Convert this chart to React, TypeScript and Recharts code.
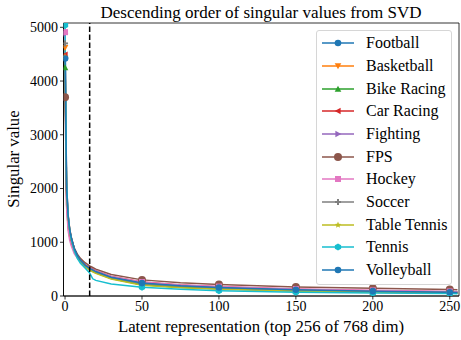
import { LineChart, Line, XAxis, YAxis, ReferenceLine, ReferenceArea, Legend } from 'recharts';

// sample positions along the latent dimension
const X_VALUES = [0, 1, 2, 3, 4, 6, 8, 10, 13, 16, 18, 20, 30, 50, 75, 100, 150, 200, 250, 255];
const MARK_AT = [0, 50, 100, 150, 200, 250];

const FOOTBALL = [4430, 1950, 1480, 1240, 1090, 880, 750, 660, 570, 510, 480, 450, 345, 235, 185, 155, 112, 88, 68, 63];
const BASKETBALL = [4620, 2050, 1520, 1260, 1100, 880, 745, 650, 560, 500, 470, 440, 335, 225, 178, 148, 106, 83, 64, 59];
const BIKE_RACING = [4250, 1900, 1430, 1200, 1060, 860, 730, 640, 550, 490, 460, 430, 325, 210, 165, 135, 97, 76, 58, 54];
const CAR_RACING = [4490, 1700, 1280, 1100, 990, 830, 730, 660, 585, 530, 500, 470, 365, 260, 205, 172, 125, 100, 80, 74];
const FIGHTING = [4880, 2100, 1500, 1240, 1080, 870, 750, 660, 575, 515, 485, 455, 350, 245, 193, 162, 117, 93, 72, 67];
const FPS = [3700, 1850, 1420, 1210, 1080, 890, 780, 700, 620, 560, 530, 500, 400, 300, 245, 212, 168, 142, 122, 118];
const HOCKEY = [4910, 1650, 1220, 1040, 940, 790, 705, 640, 570, 520, 490, 465, 365, 260, 205, 175, 130, 105, 85, 80];
const SOCCER = [4700, 2000, 1480, 1230, 1080, 870, 745, 655, 565, 505, 475, 445, 340, 230, 180, 150, 108, 85, 66, 61];
const TABLE_TENNIS = [4450, 1950, 1450, 1210, 1060, 850, 720, 630, 540, 480, 450, 420, 315, 200, 155, 125, 90, 70, 54, 50];
const TENNIS = [5040, 2100, 1500, 1230, 1060, 840, 700, 610, 520, 430, 320, 290, 225, 165, 125, 100, 72, 58, 46, 43];
const VOLLEYBALL = [4420, 1980, 1490, 1250, 1100, 885, 755, 665, 575, 515, 485, 455, 350, 240, 190, 158, 115, 90, 70, 65];

const X_TICKS = [0, 50, 100, 150, 200, 250];
const Y_TICKS = [0, 1000, 2000, 3000, 4000, 5000];
const CUTOFF = 16;

const SERIES = [
  { key: 'Football', values: FOOTBALL, color: '#1f77b4', marker: 'o' },
  { key: 'Basketball', values: BASKETBALL, color: '#ff7f0e', marker: 'v' },
  { key: 'Bike Racing', values: BIKE_RACING, color: '#2ca02c', marker: '^' },
  { key: 'Car Racing', values: CAR_RACING, color: '#d62728', marker: '<' },
  { key: 'Fighting', values: FIGHTING, color: '#9467bd', marker: '>' },
  { key: 'FPS', values: FPS, color: '#8c564b', marker: 'O' },
  { key: 'Hockey', values: HOCKEY, color: '#e377c2', marker: 's' },
  { key: 'Soccer', values: SOCCER, color: '#7f7f7f', marker: 'P' },
  { key: 'Table Tennis', values: TABLE_TENNIS, color: '#bcbd22', marker: '*' },
  { key: 'Tennis', values: TENNIS, color: '#17becf', marker: 'h' },
  { key: 'Volleyball', values: VOLLEYBALL, color: '#1f77b4', marker: 'o' },
];

const rows = X_VALUES.map((x, i) => {
  const row: Record<string, number> = { x };
  SERIES.forEach((s) => { row[s.key] = s.values[i]; });
  return row;
});

const FONT = '"Liberation Serif", "Times New Roman", serif';

function Marker({ type, cx, cy, color }: { type: string; cx: number; cy: number; color: string }) {
  const r = 3.3;
  switch (type) {
    case 'v':
      return <polygon points={`${cx - r},${cy - r * 0.8} ${cx + r},${cy - r * 0.8} ${cx},${cy + r}`} fill={color} />;
    case '^':
      return <polygon points={`${cx - r},${cy + r * 0.8} ${cx + r},${cy + r * 0.8} ${cx},${cy - r}`} fill={color} />;
    case '<':
      return <polygon points={`${cx + r * 0.8},${cy - r} ${cx + r * 0.8},${cy + r} ${cx - r},${cy}`} fill={color} />;
    case '>':
      return <polygon points={`${cx - r * 0.8},${cy - r} ${cx - r * 0.8},${cy + r} ${cx + r},${cy}`} fill={color} />;
    case 's':
      return <rect x={cx - 3} y={cy - 3} width={6} height={6} fill={color} />;
    case 'P':
      return (
        <g fill={color}>
          <rect x={cx - 3} y={cy - 1} width={6} height={2} />
          <rect x={cx - 1} y={cy - 3} width={2} height={6} />
        </g>
      );
    case '*': {
      const pts: string[] = [];
      for (let k = 0; k < 10; k++) {
        const a = -Math.PI / 2 + (k * Math.PI) / 5;
        const rr = k % 2 === 0 ? 3.5 : 1.5;
        pts.push(`${cx + rr * Math.cos(a)},${cy + rr * Math.sin(a)}`);
      }
      return <polygon points={pts.join(' ')} fill={color} />;
    }
    case 'h': {
      const pts: string[] = [];
      for (let k = 0; k < 6; k++) {
        const a = -Math.PI / 2 + (k * Math.PI) / 3;
        pts.push(`${cx + 3.6 * Math.cos(a)},${cy + 3.6 * Math.sin(a)}`);
      }
      return <polygon points={pts.join(' ')} fill={color} />;
    }
    case 'O':
      return <circle cx={cx} cy={cy} r={4} fill={color} />;
    default:
      return <circle cx={cx} cy={cy} r={3.3} fill={color} />;
  }
}

function LegendBox() {
  return (
    <div style={{
      width: 136, height: 255, background: 'rgba(255,255,255,0.85)', border: '1px solid #d6d6d6',
      borderRadius: 3, fontFamily: FONT, fontSize: 16, color: '#000', boxSizing: 'border-box', paddingTop: 1,
    }}>
      {SERIES.map((s) => (
        <div key={s.key} style={{ height: 22.66, display: 'flex', alignItems: 'center' }}>
          <svg width={49} height={12} style={{ flex: 'none' }}>
            <line x1={5} x2={37} y1={6} y2={6} stroke={s.color} strokeWidth={1.5} />
            <Marker type={s.marker} cx={21} cy={6} color={s.color} />
          </svg>
          <span style={{ lineHeight: '16px', whiteSpace: 'nowrap' }}>{s.key}</span>
        </div>
      ))}
    </div>
  );
}

export default function App() {
  return (
    <div style={{ position: 'absolute', left: 0, top: 0, width: 461, height: 340, background: '#fff' }}>
      <LineChart width={461} height={340} data={rows} margin={{ top: 23, right: 2, left: 0, bottom: 0 }}>
        <XAxis
          dataKey="x" type="number" domain={[-1, 256]} ticks={X_TICKS} allowDataOverflow
          height={44} tickSize={3.5} tickMargin={2}
          axisLine={{ stroke: '#000', strokeWidth: 0.8 }} tickLine={{ stroke: '#000', strokeWidth: 0.8 }}
          tick={{ fill: '#000', fontSize: 14, fontFamily: FONT }}
        />
        <YAxis
          type="number" domain={[0, 5080]} ticks={Y_TICKS} allowDataOverflow
          width={63.5} tickSize={3.5} tickMargin={2}
          axisLine={{ stroke: '#000', strokeWidth: 0.8 }} tickLine={{ stroke: '#000', strokeWidth: 0.8 }}
          tick={{ fill: '#000', fontSize: 14, fontFamily: FONT }}
        />
        <ReferenceArea x1={-1} x2={256} y1={0} y2={5080} fill="none" stroke="#000" strokeWidth={0.8} />
        {SERIES.map((s) => (
          <Line
            key={s.key} type="linear" dataKey={s.key} stroke={s.color} strokeWidth={1.5}
            isAnimationActive={false} legendType="line"
            dot={(p: any) => {
              if (!MARK_AT.includes(p.payload.x)) return <g key={`${s.key}-${p.index}`} />;
              return <g key={`${s.key}-${p.index}`}><Marker type={s.marker} cx={p.cx} cy={p.cy} color={s.color} /></g>;
            }}
            activeDot={false}
          />
        ))}
        <ReferenceLine x={CUTOFF} stroke="#000" strokeWidth={1.5} strokeDasharray="5.5 2.5" />
        <Legend
          layout="vertical" align="center" verticalAlign="middle" width={136}
          wrapperStyle={{ left: 316, top: 30, width: 136 }}
          content={() => <LegendBox />}
        />
        <text x={261} y={18} textAnchor="middle" fontSize={17} fontFamily={FONT} fill="#000">
          Descending order of singular values from SVD
        </text>
        <text x={261} y={332} textAnchor="middle" fontSize={16.8} fontFamily={FONT} fill="#000">
          Latent representation (top 256 of 768 dim)
        </text>
        <text x={19} y={159} textAnchor="middle" fontSize={16.8} fontFamily={FONT} fill="#000" transform="rotate(-90 19 159)">
          Singular value
        </text>
      </LineChart>
    </div>
  );
}
